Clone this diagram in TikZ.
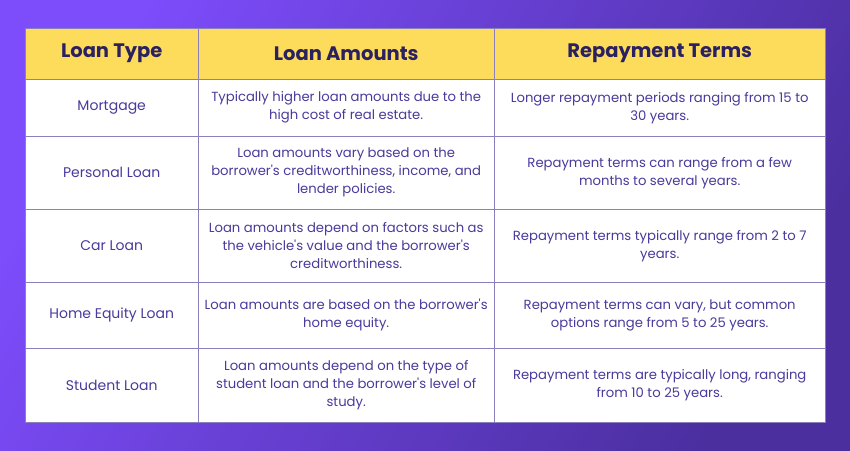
\documentclass[tikz,border=0pt]{standalone}
\usepackage{fontspec}
\setmainfont{Poppins}
\usetikzlibrary{positioning}
\definecolor{bgleft}{HTML}{7D4CFB}
\definecolor{bgright}{HTML}{4B2F9F}
\definecolor{headfill}{HTML}{FDDC5C}
\definecolor{headtext}{HTML}{2B2160}
\definecolor{bodytext}{HTML}{4A3A9C}
\definecolor{rule}{HTML}{8C80BC}
\newcommand{\q}{\textquotesingle}
\tikzset{
  head/.style={draw=rule,fill=headfill,text=headtext,font=\fontsize{19.5}{22}\selectfont\bfseries,anchor=north west,inner sep=0pt},
  cell/.style={draw=rule,fill=white,text=bodytext,font=\fontsize{13.2}{18}\selectfont,align=center,anchor=north west,inner sep=0pt},
  typecell/.style={cell,font=\fontsize{14}{18}\selectfont},
}
\begin{document}
\begin{tikzpicture}[x=1pt,y=-1pt]
 \shade[top color=bgleft,bottom color=bgright,shading angle=60] (0,0) rectangle (850,450);
 \useasboundingbox (0,0) rectangle (850,450);

 % header
 \node[head,minimum width=173,minimum height=51] (type) at (25,28) {Loan Type};
 \node[head,minimum width=296,minimum height=51] (amount) at (198,28) {Loan Amounts};
 \node[head,minimum width=331,minimum height=51] (terms) at (494,28) {Repayment Terms};

 % mortgage
 \node[typecell,minimum width=173,minimum height=57] (type1) at (25,79) {Mortgage};
 \node[cell,minimum width=296,minimum height=57] (amount1) at (198,79) {Typically higher loan amounts due to the\\high cost of real estate.};
 \node[cell,minimum width=331,minimum height=57] (terms1) at (494,79) {Longer repayment periods ranging from 15 to\\30 years.};

 % personal loan
 \node[typecell,minimum width=173,minimum height=73] (type2) at (25,136) {Personal Loan};
 \node[cell,minimum width=296,minimum height=73] (amount2) at (198,136) {Loan amounts vary based on the\\borrower\q s creditworthiness, income, and\\lender policies.};
 \node[cell,minimum width=331,minimum height=73] (terms2) at (494,136) {Repayment terms can range from a few\\months to several years.};

 % car loan
 \node[typecell,minimum width=173,minimum height=73] (type3) at (25,209) {Car Loan};
 \node[cell,minimum width=296,minimum height=73] (amount3) at (198,209) {Loan amounts depend on factors such as\\the vehicle\q s value and the borrower\q s\\creditworthiness.};
 \node[cell,minimum width=331,minimum height=73] (terms3) at (494,209) {Repayment terms typically range from 2 to 7\\years.};

 % home equity loan
 \node[typecell,minimum width=173,minimum height=66] (type4) at (25,282) {Home Equity Loan};
 \node[cell,minimum width=296,minimum height=66] (amount4) at (198,282) {Loan amounts are based on the borrower\q s\\home equity.};
 \node[cell,minimum width=331,minimum height=66] (terms4) at (494,282) {Repayment terms can vary, but common\\options range from 5 to 25 years.};

 % student loan
 \node[typecell,minimum width=173,minimum height=74] (type5) at (25,348) {Student Loan};
 \node[cell,minimum width=296,minimum height=74] (amount5) at (198,348) {Loan amounts depend on the type of\\student loan and the borrower\q s level of\\study.};
 \node[cell,minimum width=331,minimum height=74] (terms5) at (494,348) {Repayment terms are typically long, ranging\\from 10 to 25 years.};
\end{tikzpicture}
\end{document}
